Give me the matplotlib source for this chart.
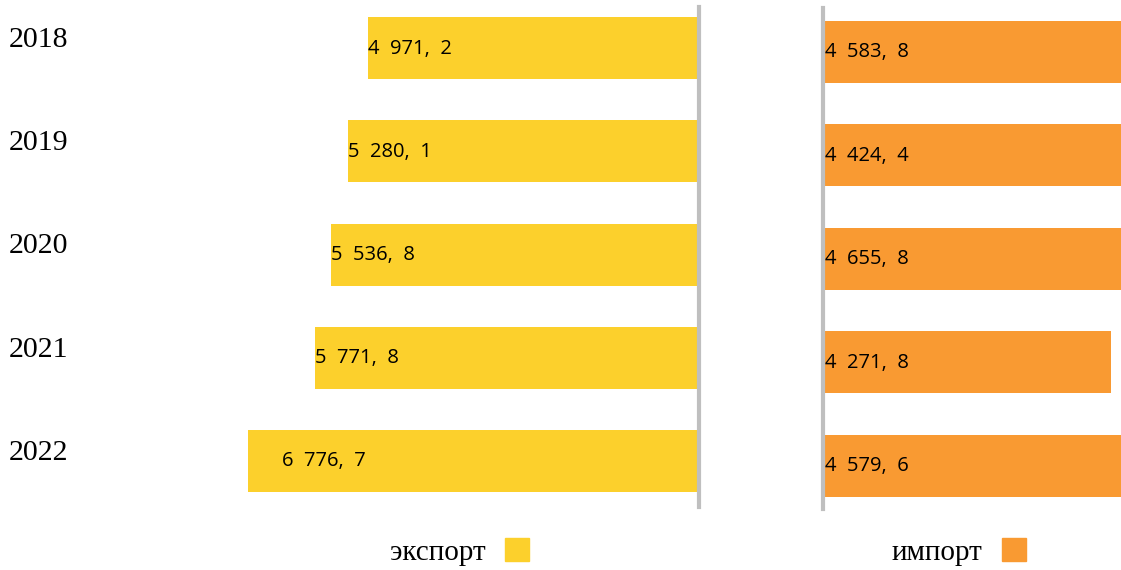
import numpy as np
import matplotlib
matplotlib.use('Agg')
import matplotlib.pyplot as plt
from matplotlib.patches import Patch

years = ['2018', '2019', '2020', '2021', '2022']
export_vals = [4971.2, 5280.1, 5536.8, 5771.8, 6776.7]
import_vals = [4583.8, 4424.4, 4655.8, 4271.8, 4579.6]
legend_labels = ['экспорт', 'импорт']

yellow = '#FCD02C'
orange = '#F99A32'
grey = '#BFBFBF'

W, H = 1121, 570
fig = plt.figure(figsize=(W / 100, H / 100), dpi=100)


def px_axes(x0, x1, ytop, ybot):
    return fig.add_axes([x0 / W, (H - ybot) / H, (x1 - x0) / W, (ybot - ytop) / H])


def fmt(v):
    tenths = int(round(v * 10))
    whole, dec = divmod(tenths, 10)
    th, rest = divmod(whole, 1000)
    return f'{th}  {rest:03d},  {dec}'


pos = np.arange(len(years))

# export, bars grow to the left
ax_e = px_axes(230, 699, 7, 507)
ax_e.barh(pos, export_vals, height=0.6, color=yellow)
ax_e.set_xlim(7050, 0)
ax_e.set_ylim(4.446, -0.399)

# import, bars grow to the right (clipped at the edge)
ax_i = px_axes(822.5, 1121, 8, 509)
ax_i.barh(pos, import_vals, height=0.6, color=orange)
ax_i.set_xlim(0, 4415)
ax_i.set_ylim(4.417, -0.423)

for ax, side in [(ax_e, 'right'), (ax_i, 'left')]:
    ax.set_xticks([])
    ax.set_yticks([])
    for s in ax.spines.values():
        s.set_visible(False)
    ax.spines[side].set_visible(True)
    ax.spines[side].set_color(grey)
    ax.spines[side].set_linewidth(3)
    ax.patch.set_alpha(0)

label_font = dict(family=['Open Sans', 'DejaVu Sans'], fontsize=14.5, color='black')
exp_dx = [0, 0, 0, 0, 24]  # last label sits inside the bar
for i, v in enumerate(export_vals):
    ax_e.annotate(fmt(v), xy=(v, i), xytext=(exp_dx[i], 1.5), textcoords='offset points',
                  ha='left', va='center_baseline', **label_font)
for i, v in enumerate(import_vals):
    ax_i.annotate(fmt(v), xy=(0, i), xytext=(1.5, 1.5), textcoords='offset points',
                  ha='left', va='center_baseline', **label_font)

serif = ['Liberation Serif', 'DejaVu Serif']
for i, y in enumerate(years):
    ax_e.annotate(y, xy=(9 / W, i), xycoords=(fig.transFigure, ax_e.transData),
                  xytext=(0, 8), textcoords='offset points',
                  ha='left', va='center_baseline', family=serif, fontsize=21.5)

for lab, col, cx in [(legend_labels[0], yellow, 459.5), (legend_labels[1], orange, 958.5)]:
    fig.legend(handles=[Patch(color=col)], labels=[lab], loc='center',
               bbox_to_anchor=(cx / W, (H - 552) / H), markerfirst=False, frameon=False,
               prop=dict(family=serif, size=21), handlelength=0.82, handleheight=0.85,
               handletextpad=0.68, borderpad=0, borderaxespad=0)

fig.savefig('out.png', dpi=100)
